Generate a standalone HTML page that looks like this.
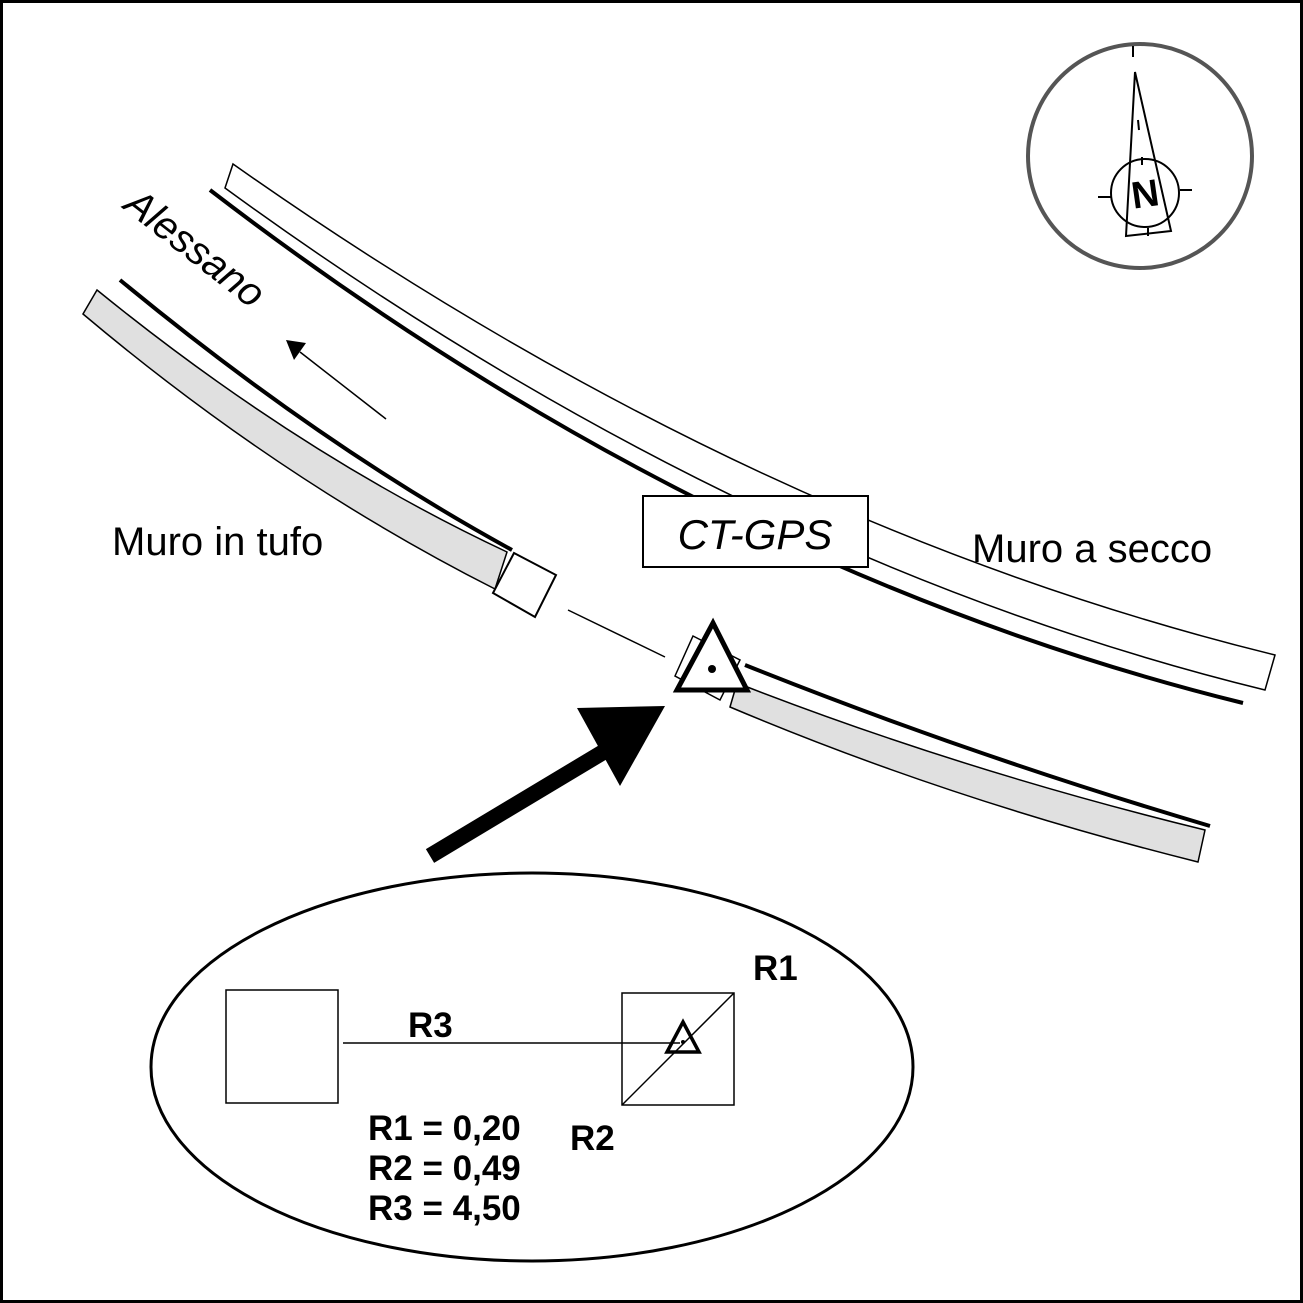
<!DOCTYPE html>
<html><head><meta charset="utf-8"><style>
html,body{margin:0;padding:0;background:#fff}
svg{display:block}
text{font-family:"Liberation Sans",sans-serif}
.b{font-family:"Liberation Sans",sans-serif;font-weight:bold;font-size:35px}
</style></head><body>
<svg width="1303" height="1303" viewBox="0 0 1303 1303" xmlns="http://www.w3.org/2000/svg">
<rect x="1.5" y="1.5" width="1300" height="1300" fill="#fff" stroke="#000" stroke-width="3"/>
<path d="M233,164 Q745,525 1275,655 L1265,690 Q735,560 225,188 Z" fill="#fff" stroke="#000" stroke-width="1.5"/>
<path d="M210,190 Q705,570 1243,703" fill="none" stroke="#000" stroke-width="4"/>
<path d="M97,290 Q300,455 507,552 L495,589 Q280,480 83,314 Z" fill="#e0e0e0" stroke="#000" stroke-width="1.5"/>
<path d="M120,280 Q320,445 512,550" fill="none" stroke="#000" stroke-width="4"/>
<polygon points="514,553 556,575 535,617 493,593" fill="#fff" stroke="#000" stroke-width="2"/>
<line x1="568" y1="610" x2="665" y2="657" stroke="#000" stroke-width="1.5"/>
<path d="M737,683 Q960,770 1205,830 L1198,862 Q950,800 730,707 Z" fill="#e0e0e0" stroke="#000" stroke-width="1.5"/>
<path d="M745,665 Q970,755 1210,826" fill="none" stroke="#000" stroke-width="4"/>
<polygon points="693,636 740,660 720,700 675,676" fill="#fff" stroke="#000" stroke-width="1.5"/>
<polygon points="713,623 747,690 677,690" fill="#fff" stroke="#000" stroke-width="5" stroke-linejoin="miter"/>
<circle cx="712" cy="669" r="4" fill="#000"/>
<rect x="643" y="496" width="225" height="71" fill="#fff" stroke="#000" stroke-width="2"/>
<text x="755" y="549" font-size="42" font-style="italic" text-anchor="middle">CT-GPS</text>
<line x1="430" y1="856" x2="610" y2="748" stroke="#000" stroke-width="16"/>
<polygon points="577,708 665,706 620,786" fill="#000"/>
<line x1="386" y1="419" x2="300" y2="352" stroke="#000" stroke-width="1.5"/>
<polygon points="286,340 306,343 294,360" fill="#000"/>
<text transform="translate(122,208) rotate(38)" font-size="40" font-style="italic">Alessano</text>
<text x="112" y="555" font-size="40">Muro in tufo</text>
<text x="972" y="562" font-size="40">Muro a secco</text>
<circle cx="1140" cy="156" r="112" fill="#fff" stroke="#555" stroke-width="4"/>
<line x1="1133" y1="46" x2="1133" y2="57" stroke="#000" stroke-width="2"/>
<polygon points="1135,72 1171,231 1126,236" fill="none" stroke="#000" stroke-width="2"/>
<line x1="1138" y1="120" x2="1139" y2="130" stroke="#000" stroke-width="2"/>
<circle cx="1145" cy="193" r="34" fill="none" stroke="#000" stroke-width="2"/>
<line x1="1098" y1="197" x2="1111" y2="197" stroke="#000" stroke-width="2"/>
<line x1="1180" y1="190" x2="1192" y2="190" stroke="#000" stroke-width="2"/>
<line x1="1142" y1="157" x2="1142" y2="165" stroke="#000" stroke-width="2"/>
<line x1="1148" y1="228" x2="1148" y2="236" stroke="#000" stroke-width="2"/>
<text x="1145" y="207" font-size="38" font-weight="bold" text-anchor="middle" transform="rotate(-8 1145 193)">N</text>
<ellipse cx="532" cy="1067" rx="381" ry="194" fill="#fff" stroke="#000" stroke-width="3"/>
<rect x="226" y="990" width="112" height="113" fill="none" stroke="#000" stroke-width="1.5"/>
<rect x="622" y="993" width="112" height="112" fill="none" stroke="#000" stroke-width="1.5"/>
<line x1="622" y1="1105" x2="734" y2="993" stroke="#000" stroke-width="1.5"/>
<line x1="343" y1="1043" x2="680" y2="1043" stroke="#000" stroke-width="1.5"/>
<polygon points="683,1022 699,1052 667,1052" fill="none" stroke="#000" stroke-width="3.5"/>
<circle cx="683" cy="1042" r="2" fill="#000"/>
<text class="b" x="408" y="1037">R3</text>
<text class="b" x="753" y="980">R1</text>
<text class="b" x="570" y="1150">R2</text>
<text class="b" x="368" y="1140">R1 = 0,20</text>
<text class="b" x="368" y="1180">R2 = 0,49</text>
<text class="b" x="368" y="1220">R3 = 4,50</text>
</svg>
</body></html>
